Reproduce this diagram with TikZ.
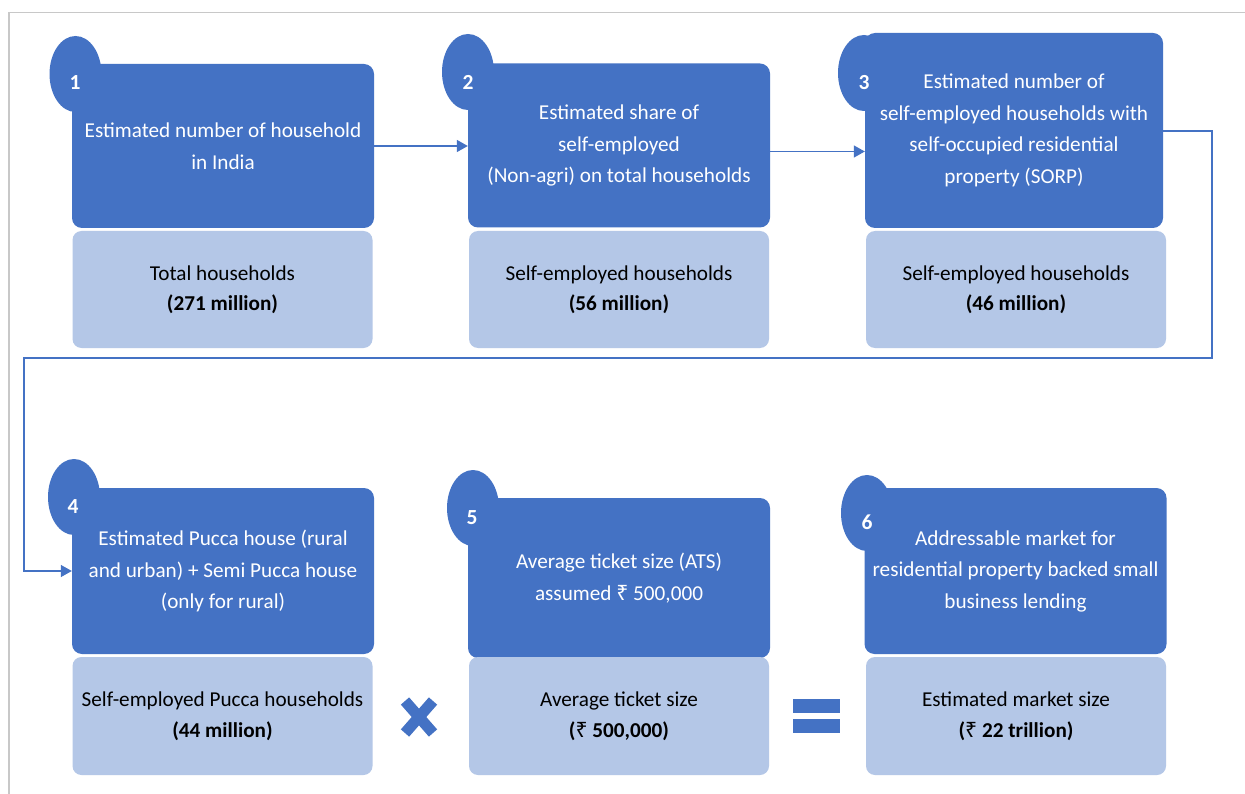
\documentclass[tikz,border=0pt]{standalone}
\usepackage{fontspec}
\setmainfont{Carlito}
\newfontfamily\rupeefont{Noto Sans}
\newcommand{\rs}{{\rupeefont ₹}}
\usetikzlibrary{shapes.geometric,arrows.meta}
\definecolor{dblue}{HTML}{4472C4}
\definecolor{lblue}{HTML}{B4C7E7}
\definecolor{framegray}{HTML}{C8C8C8}
\tikzset{
  darkbox/.style={fill=dblue, rounded corners=10pt, minimum width=302pt, text=white, align=center, inner sep=0pt,
    font=\fontsize{21.2}{31.5}\selectfont},
  lightbox/.style={fill=lblue, rounded corners=9pt, minimum width=300pt, minimum height=117pt, text=black, align=center, inner sep=0pt,
    font=\fontsize{21.2}{30.5}\selectfont},
  badge/.style={ellipse, fill=dblue, minimum width=52pt, minimum height=76pt, inner sep=0pt},
  numlbl/.style={text=white, font=\fontsize{21.5}{24}\selectfont\bfseries, inner sep=0pt},
  conn/.style={draw=dblue, line width=1.5pt, -{Triangle[length=11pt,width=12pt]}},
  loopconn/.style={draw=dblue, line width=1.2pt, -{Triangle[length=11pt,width=12pt]}},
  sym/.style={draw=dblue, line width=11pt, line cap=butt},
}
\begin{document}
\begin{tikzpicture}[x=1pt,y=-1pt]
\useasboundingbox (0,0) rectangle (1245,794);
\fill[white] (0,0) rectangle (1245,794);
% frame
\draw[framegray, line width=1.5pt] (9,794) -- (9,12.5) -- (1245,12.5);

% badges (ellipses)
\node[badge] (b1) at (75.5,74) {};
\node[badge] (b2) at (468,72) {};
\node[badge] (b3) at (864,73) {};
\node[badge] (b4) at (74,497) {};
\node[badge] (b5) at (473,508) {};
\node[badge] (b6) at (867,513) {};

% dark boxes
\node[darkbox, minimum height=164pt] (d1) at (223,146) {Estimated number of household\\in India};
\node[darkbox, minimum height=164pt] (d2) at (619,145.5) {Estimated share of\\self-employed\\(Non-agri) on total households};
\node[darkbox, minimum width=298pt, minimum height=195pt] (d3) at (1014,130.5) {Estimated number of\\self-employed households with\\self-occupied residential\\property (SORP)};
\node[darkbox, minimum height=166pt] (d4) at (223,571) {Estimated Pucca house (rural\\and urban) + Semi Pucca house\\(only for rural)};
\node[darkbox, minimum height=160pt] (d5) at (619,578) {Average ticket size (ATS)\\assumed \rs{} 500,000};
\node[darkbox, minimum width=302pt, minimum height=166pt] (d6) at (1015.5,571) {Addressable market for\\residential property backed small\\business lending};

% numbers
\node[numlbl] (n1) at (75,83) {1};
\node[numlbl] (n2) at (468,82) {2};
\node[numlbl] (n3) at (864,83) {3};
\node[numlbl] (n4) at (73,507) {4};
\node[numlbl] (n5) at (472,518) {5};
\node[numlbl] (n6) at (867,522) {6};

% light boxes
\node[lightbox] (l1) at (222.5,289.5) {Total households\\\textbf{(271 million)}};
\node[lightbox] (l2) at (619,289.5) {Self-employed households\\\textbf{(56 million)}};
\node[lightbox] (l3) at (1016,289.5) {Self-employed households\\\textbf{(46 million)}};
\node[lightbox, minimum height=118pt] (l4) at (222.5,716) {Self-employed Pucca households\\\textbf{(44 million)}};
\node[lightbox, minimum height=118pt] (l5) at (619,716) {Average ticket size\\\textbf{(\rs{} 500,000)}};
\node[lightbox, minimum height=118pt] (l6) at (1016,716) {Estimated market size\\\textbf{(\rs{} 22 trillion)}};

% connectors
\draw[conn] (d1.east) -- (d1.east -| d2.west);
\draw[conn] ([yshift=-6pt]d2.east) -- ([yshift=-6pt]d2.east -| d3.west);
\coordinate (r1) at (1212,131);
\coordinate (r2) at (1212,358);
\coordinate (r3) at (24,358);
\coordinate (r4) at (24,571);
\draw[loopconn] (d3.east |- r1) -- (r1) -- (r2) -- (r3) -- (r4) -- (d4.west);

% multiply sign
\coordinate (xc) at (419,717);
\draw[sym] ([shift={(-14,-16)}]xc) -- ([shift={(14,16)}]xc);
\draw[sym] ([shift={(14,-16)}]xc) -- ([shift={(-14,16)}]xc);
% equals sign
\fill[dblue] (793,699) rectangle (840,713);
\fill[dblue] (793,719) rectangle (840,733);
\end{tikzpicture}
\end{document}
